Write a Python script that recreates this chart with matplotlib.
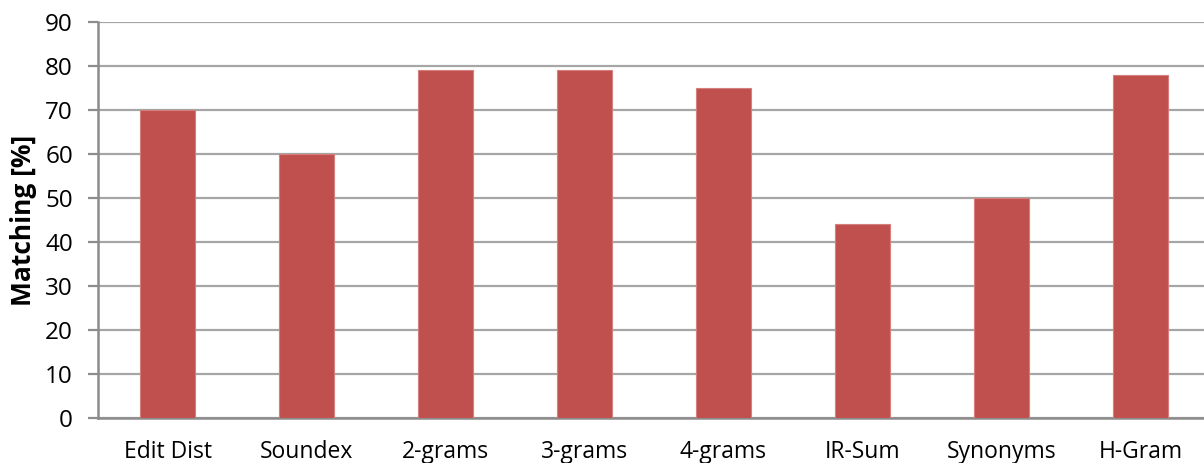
import matplotlib.pyplot as plt
import numpy as np

methods = ["Edit Dist", "Soundex", "2-grams", "3-grams", "4-grams", "IR-Sum", "Synonyms", "H-Gram"]
matching = [70, 60, 79, 79, 75, 44, 50, 78]
y_ticks = [0, 10, 20, 30, 40, 50, 60, 70, 80, 90]

plt.rcParams["font.family"] = ["Open Sans", "DejaVu Sans"]

fig = plt.figure(figsize=(12.04, 4.63), dpi=100)
# axes run slightly past the right edge, so the last slot is clipped
ax = fig.add_axes([98 / 1204, 45 / 463, 1112 / 1204, 396 / 463])

x = np.arange(len(methods))
ax.bar(x, matching, width=0.4, color="#C0504D", edgecolor="#D47F7C", linewidth=0.8, zorder=3)

ax.set_xlim(-0.5, len(methods) - 0.5)
ax.set_ylim(0, 90)
ax.set_yticks(y_ticks)
ax.yaxis.grid(True, color="#A6A6A6", linewidth=1.6, zorder=0)
ax.set_axisbelow(True)

ax.set_xticks(x)
ax.set_xticklabels(methods, fontsize=16.5)
ax.tick_params(axis="x", length=0, pad=16)
ax.tick_params(axis="y", labelsize=17.5, length=7, width=1.6, color="#8C8C8C", pad=11)

for side in ["top", "right"]:
    ax.spines[side].set_visible(False)
for side in ["left", "bottom"]:
    ax.spines[side].set_color("#8C8C8C")
    ax.spines[side].set_linewidth(1.8)

ax.set_ylabel("Matching [%]", fontsize=19, fontweight="bold")
ax.yaxis.set_label_coords(-61 / 1112, 0.5)

fig.savefig("out.png", dpi=100)
